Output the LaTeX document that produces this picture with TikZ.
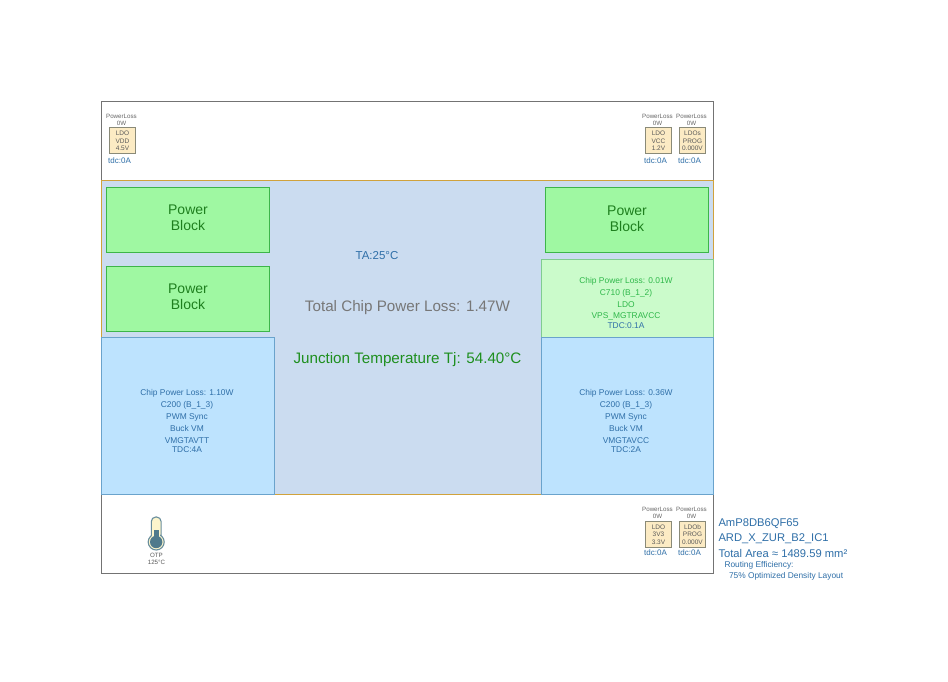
\documentclass[tikz,border=0pt]{standalone}
\usepackage{fontspec}
\setmainfont{Liberation Sans}
\definecolor{blu}{HTML}{2F6FA8}
\definecolor{grn}{HTML}{1E8F1E}
\definecolor{lgrn}{HTML}{2FB84A}
\definecolor{gry}{HTML}{777777}
\definecolor{pbfill}{HTML}{9FF8A2}
\definecolor{pbtext}{HTML}{1E7F1E}
\definecolor{pbedge}{HTML}{3DB54A}
\definecolor{blueedge}{HTML}{6AA3CC}
\definecolor{bluefill}{HTML}{BDE3FE}
\definecolor{greenedge}{HTML}{80CC90}
\definecolor{greenfill}{HTML}{CBFBCB}
\definecolor{ldoedge}{HTML}{8A8A78}
\definecolor{ldofill}{HTML}{FCEBC4}
\definecolor{corefill}{HTML}{CBDCF0}
\definecolor{coreedge}{HTML}{D0A23C}
\definecolor{therm}{HTML}{4F7A8C}
\definecolor{thermin}{HTML}{FCF5CC}
\newcommand{\fs}[1]{\fontsize{#1}{#1}\selectfont}
\tikzset{
  px/.style={x=1pt,y=-1pt},
  lbl/.style={inner sep=0pt,outer sep=0pt,align=center},
  powerblock/.style={draw=pbedge,line width=1.1pt,fill=pbfill,inner sep=0pt,minimum width=162.5pt,minimum height=65pt},
  pbtxt/.style={lbl,text=pbtext,font=\fs{14},yshift=1.6pt},
  chipblue/.style={draw=blueedge,line width=.8pt,fill=bluefill},
  chipgreen/.style={draw=greenedge,line width=.8pt,fill=greenfill},
  ldobox/.style={draw=ldoedge,line width=1pt,fill=ldofill,minimum width=26pt,minimum height=26pt,inner sep=0pt,align=center,font=\fs{6.5},text=black!65,anchor=center},
  plbl/.style={lbl,font=\fs{6.2},text=black!60},
  tdc/.style={lbl,font=\fs{8},text=blu},
  small/.style={lbl,font=\fs{8.4},text=blu},
  smallg/.style={lbl,font=\fs{8.4},text=lgrn},
  side/.style={lbl,anchor=west,font=\fs{11.2},text=blu},
  sidesm/.style={lbl,anchor=west,font=\fs{8.35},text=blu}
}
\begin{document}
\begin{tikzpicture}[px]
\useasboundingbox (0,0) rectangle (948,682);
\fill[white] (0,0) rectangle (948,682);
% outer and core
\draw[draw=black!55,line width=.9pt,fill=white] (101.5,101.5) rectangle (713.5,573.5);
\draw[draw=coreedge,line width=.9pt,fill=corefill] (101.5,180.5) rectangle (713.5,494.5);
% power blocks
\node[powerblock] (pb1) at (188,219.7) {};
\node[pbtxt] (pb1t) at (pb1.center) {Power\\[2pt]Block};
\node[powerblock] (pb2) at (188,298.7) {};
\node[pbtxt] (pb2t) at (pb2.center) {Power\\[2pt]Block};
\node[powerblock] (pb3) at (627,220) {};
\node[pbtxt] (pb3t) at (pb3.center) {Power\\[2pt]Block};
% chip regions
\node[chipgreen,minimum width=172.5pt,minimum height=78.5pt,inner sep=0pt,outer sep=0pt] (c710) at (627.2,298.5) {};
\node[chipblue,minimum width=172.5pt,minimum height=157pt,inner sep=0pt,outer sep=0pt] (c200a) at (187.7,416.3) {};
\node[chipblue,minimum width=172.5pt,minimum height=157pt,inner sep=0pt,outer sep=0pt] (c200b) at (627.2,416.3) {};
% centre text
\node[lbl,font=\fs{11.5},text=blu] (ta) at (377,255.5) {TA:25°C};
\node[lbl,font=\fs{15.2},text=gry] (tot) at (407.5,308) {Total Chip Power Loss: 1.47W};
\node[lbl,font=\fs{15.2},text=grn] (tj) at (407.5,359.5) {Junction Temperature Tj: 54.40°C};
% C710
\node[smallg] (g1) at (626,281) {Chip Power Loss: 0.01W};
\node[smallg] (g2) at (626,293) {C710 (B\_1\_2)};
\node[smallg] (g3) at (626,304.5) {LDO};
\node[smallg] (g4) at (626,316.5) {VPS\_MGTRAVCC};
\node[small] (g5) at (626,325.5) {TDC:0.1A};
% C200 left
\node[small] (a1) at (187,393) {Chip Power Loss: 1.10W};
\node[small] (a2) at (187,405) {C200 (B\_1\_3)};
\node[small] (a3) at (187,417) {PWM Sync};
\node[small] (a4) at (187,428.5) {Buck VM};
\node[small] (a5) at (187,440.5) {VMGTAVTT};
\node[small] (a6) at (187,449.5) {TDC:4A};
% C200 right
\node[small] (b1) at (626,393) {Chip Power Loss: 0.36W};
\node[small] (b2) at (626,405) {C200 (B\_1\_3)};
\node[small] (b3) at (626,417) {PWM Sync};
\node[small] (b4) at (626,428.5) {Buck VM};
\node[small] (b5) at (626,440.5) {VMGTAVCC};
\node[small] (b6) at (626,449.5) {TDC:2A};
% LDOs top
\node[plbl] (p1) at (121.5,116.5) {PowerLoss};
\node[plbl] (p1b) at (121.5,123.5) {0W};
\node[ldobox] (l1) at (122.5,141) {LDO\\[1pt]VDD\\[1pt]4.5V};
\node[tdc] (t1) at (119.5,160.5) {tdc:0A};
\node[plbl] (p2) at (657.5,116.5) {PowerLoss};
\node[plbl] (p2b) at (657.5,123.5) {0W};
\node[ldobox] (l2) at (658.5,141) {LDO\\[1pt]VCC\\[1pt]1.2V};
\node[tdc] (t2) at (655.5,160.5) {tdc:0A};
\node[plbl] (p3) at (691.5,116.5) {PowerLoss};
\node[plbl] (p3b) at (691.5,123.5) {0W};
\node[ldobox] (l3) at (692.5,141) {LDOs\\[1pt]PROG\\[1pt]0.000V};
\node[tdc] (t3) at (689.5,160.5) {tdc:0A};
% LDOs bottom
\node[plbl] (p4) at (657.5,509.5) {PowerLoss};
\node[plbl] (p4b) at (657.5,516.5) {0W};
\node[ldobox] (l4) at (658.5,534.5) {LDO\\[1pt]3V3\\[1pt]3.3V};
\node[tdc] (t4) at (655.5,553) {tdc:0A};
\node[plbl] (p5) at (691.5,509.5) {PowerLoss};
\node[plbl] (p5b) at (691.5,516.5) {0W};
\node[ldobox] (l5) at (692.5,534.5) {LDOb\\[1pt]PROG\\[1pt]0.000V};
\node[tdc] (t5) at (689.5,553) {tdc:0A};
% thermometer
\draw[draw=therm!85,line width=1.1pt,fill=thermin,rounded corners=4.5pt] (151.3,517) rectangle (161.1,542);
\draw[draw=therm!85,line width=1.1pt,fill=thermin] (156.2,542) circle[radius=8];
\fill[thermin] (152,528) rectangle (160.4,536);
\fill[therm] (153.8,530) rectangle (158.7,540);
\fill[therm] (156.2,542) circle[radius=6.2];
\node[lbl,font=\fs{6.2},text=black!65] (otp) at (156.5,555.5) {OTP};
\node[lbl,font=\fs{6.2},text=black!65] (otpt) at (156.5,562.5) {125°C};
% side text
\node[side] (s1) at (718.5,524) {AmP8DB6QF65};
\node[side] (s2) at (718.5,539) {ARD\_X\_ZUR\_B2\_IC1};
\node[side] (s3) at (718.5,553.2) {Total Area ≈ 1489.59 mm²};
\node[sidesm] (s4) at (724.5,565.5) {Routing Efficiency:};
\node[sidesm] (s5) at (729,576.5) {75\% Optimized Density Layout};
\end{tikzpicture}
\end{document}
